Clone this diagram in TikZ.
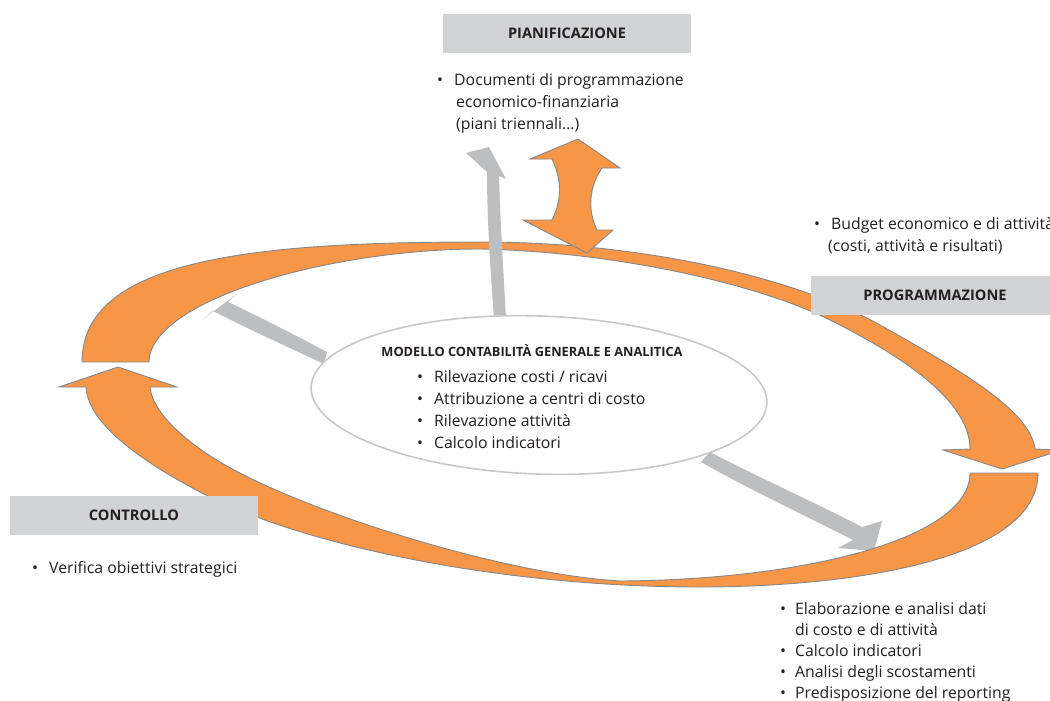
\documentclass[tikz,border=0pt]{standalone}
\usepackage{fontspec}
\setmainfont{Open Sans}
\usetikzlibrary{shapes.geometric}
\definecolor{orng}{HTML}{F79646}
\definecolor{ostroke}{HTML}{85878A}
\definecolor{garrow}{HTML}{BCBEC0}
\definecolor{gbox}{HTML}{D1D3D4}
\definecolor{elline}{HTML}{C6C8CA}
\definecolor{txt}{HTML}{231F20}
\newcommand{\bul}{\makebox[17pt][l]{\textbullet}}
\newcommand{\ind}{\hspace*{19pt}}
\tikzset{
  ribbon/.style={fill=orng, draw=ostroke, line width=0.9pt, line join=miter},
  grayarrow/.style={fill=garrow, draw=none},
  headbox/.style={fill=gbox, draw=none, minimum width=248pt, minimum height=39pt, inner sep=0pt,
    font=\fontsize{14.6}{16}\selectfont\bfseries, text=txt},
  bodytext/.style={anchor=base west, align=left, inner sep=0pt, text=txt,
    font=\fontsize{15.8}{21.8}\selectfont},
}
\begin{document}
\begin{tikzpicture}[x=1pt,y=-1pt]
\useasboundingbox (0,0) rectangle (1050,701);
\begin{scope}
\clip (0,0) rectangle (1050,701);

% gray arrows under the ring
\fill[grayarrow] (327,352) .. controls (295,335) and (260,317) .. (228,302) -- (238,293) -- (202,320) -- (213,311) .. controls (250,330) and (290,348) .. (324,364) -- cycle;
\fill[grayarrow] (710,452) .. controls (760,478) and (820,505) .. (862,527) -- (882,521) -- (874,551) -- (838,548) -- (853,540) .. controls (810,518) and (750,490) .. (701,462) -- cycle;

% top orange ribbon (arrow pointing down at right)
\draw[ribbon] (82,362) .. controls (82,260) and (250,242) .. (480,242)
  .. controls (650,242) and (800,280) .. (880,325)
  .. controls (960,370) and (1030,410) .. (1035,449)
  -- (1062,450) -- (1002,469) -- (943,450) -- (970,449)
  .. controls (970,400) and (900,355) .. (830,320)
  .. controls (760,285) and (620,252) .. (480,249)
  .. controls (330,249) and (150,300) .. (149,362) -- cycle;

% bottom orange ribbon (arrow pointing up at left)
\draw[ribbon] (970,473) -- (1038,473)
  .. controls (1038,560) and (850,587) .. (700,587)
  .. controls (500,587) and (300,545) .. (200,492)
  .. controls (130,455) and (88,420) .. (86,387)
  -- (59,387) -- (118,367) -- (177,387) -- (150,387)
  .. controls (152,410) and (180,438) .. (220,462)
  .. controls (300,510) and (500,574) .. (620,581)
  .. controls (800,580) and (970,540) .. (970,473) -- cycle;

% orange double arrow
\draw[ribbon] (578,139) -- (620,168) -- (602,168) .. controls (588,188) and (588,212) .. (597,230) -- (613,230) -- (587,253) -- (523,220) -- (552,220) .. controls (562,200) and (562,180) .. (552,159) -- (530,159) -- cycle;

% gray up arrow over the ring
\fill[grayarrow] (494,318) .. controls (490,265) and (487,215) .. (487,172) -- (466,153) -- (489,147) -- (506,179) -- (499,176) .. controls (500,215) and (503,265) .. (506,318) -- cycle;

% central ellipse
\node[ellipse, draw=elline, line width=1.6pt, fill=white, minimum width=456pt, minimum height=158pt, rotate=-2] (model) at (539,395) {};
\node[anchor=base, inner sep=0pt, text=txt, font=\fontsize{12.8}{14}\selectfont\bfseries] (modeltitle) at (532,356) {MODELLO CONTABILITÀ GENERALE E ANALITICA};
\node[bodytext] (modellist) at (417,448) {\bul Rilevazione costi / ricavi\\\bul Attribuzione a centri di costo\\\bul Rilevazione attività\\\bul Calcolo indicatori};

% heading boxes
\node[headbox] (pian) at (567,33.5) {PIANIFICAZIONE};
\node[headbox] (prog) at (935,295) {PROGRAMMAZIONE};
\node[headbox] (contr) at (134,515) {CONTROLLO};

% bullet texts
\node[bodytext, font=\fontsize{15.8}{22}\selectfont] (piantext) at (437,129) {\bul Documenti di programmazione\\\ind economico-finanziaria\\\ind (piani triennali\ldots)};
\node[bodytext] (progtext) at (814,251) {\bul Budget economico e di attività\\\hspace*{14pt}(costi, attività e risultati)};
\node[bodytext] (contrtext) at (32,573) {\bul Verifica obiettivi strategici};
\node[bodytext, font=\fontsize{15.8}{20.8}\selectfont] (reptext) at (780,698) {\makebox[15pt][l]{\textbullet}Elaborazione e analisi dati\\\hspace*{15pt}di costo e di attività\\\makebox[15pt][l]{\textbullet}Calcolo indicatori\\\makebox[15pt][l]{\textbullet}Analisi degli scostamenti\\\makebox[15pt][l]{\textbullet}Predisposizione del reporting};
\end{scope}
\end{tikzpicture}
\end{document}
